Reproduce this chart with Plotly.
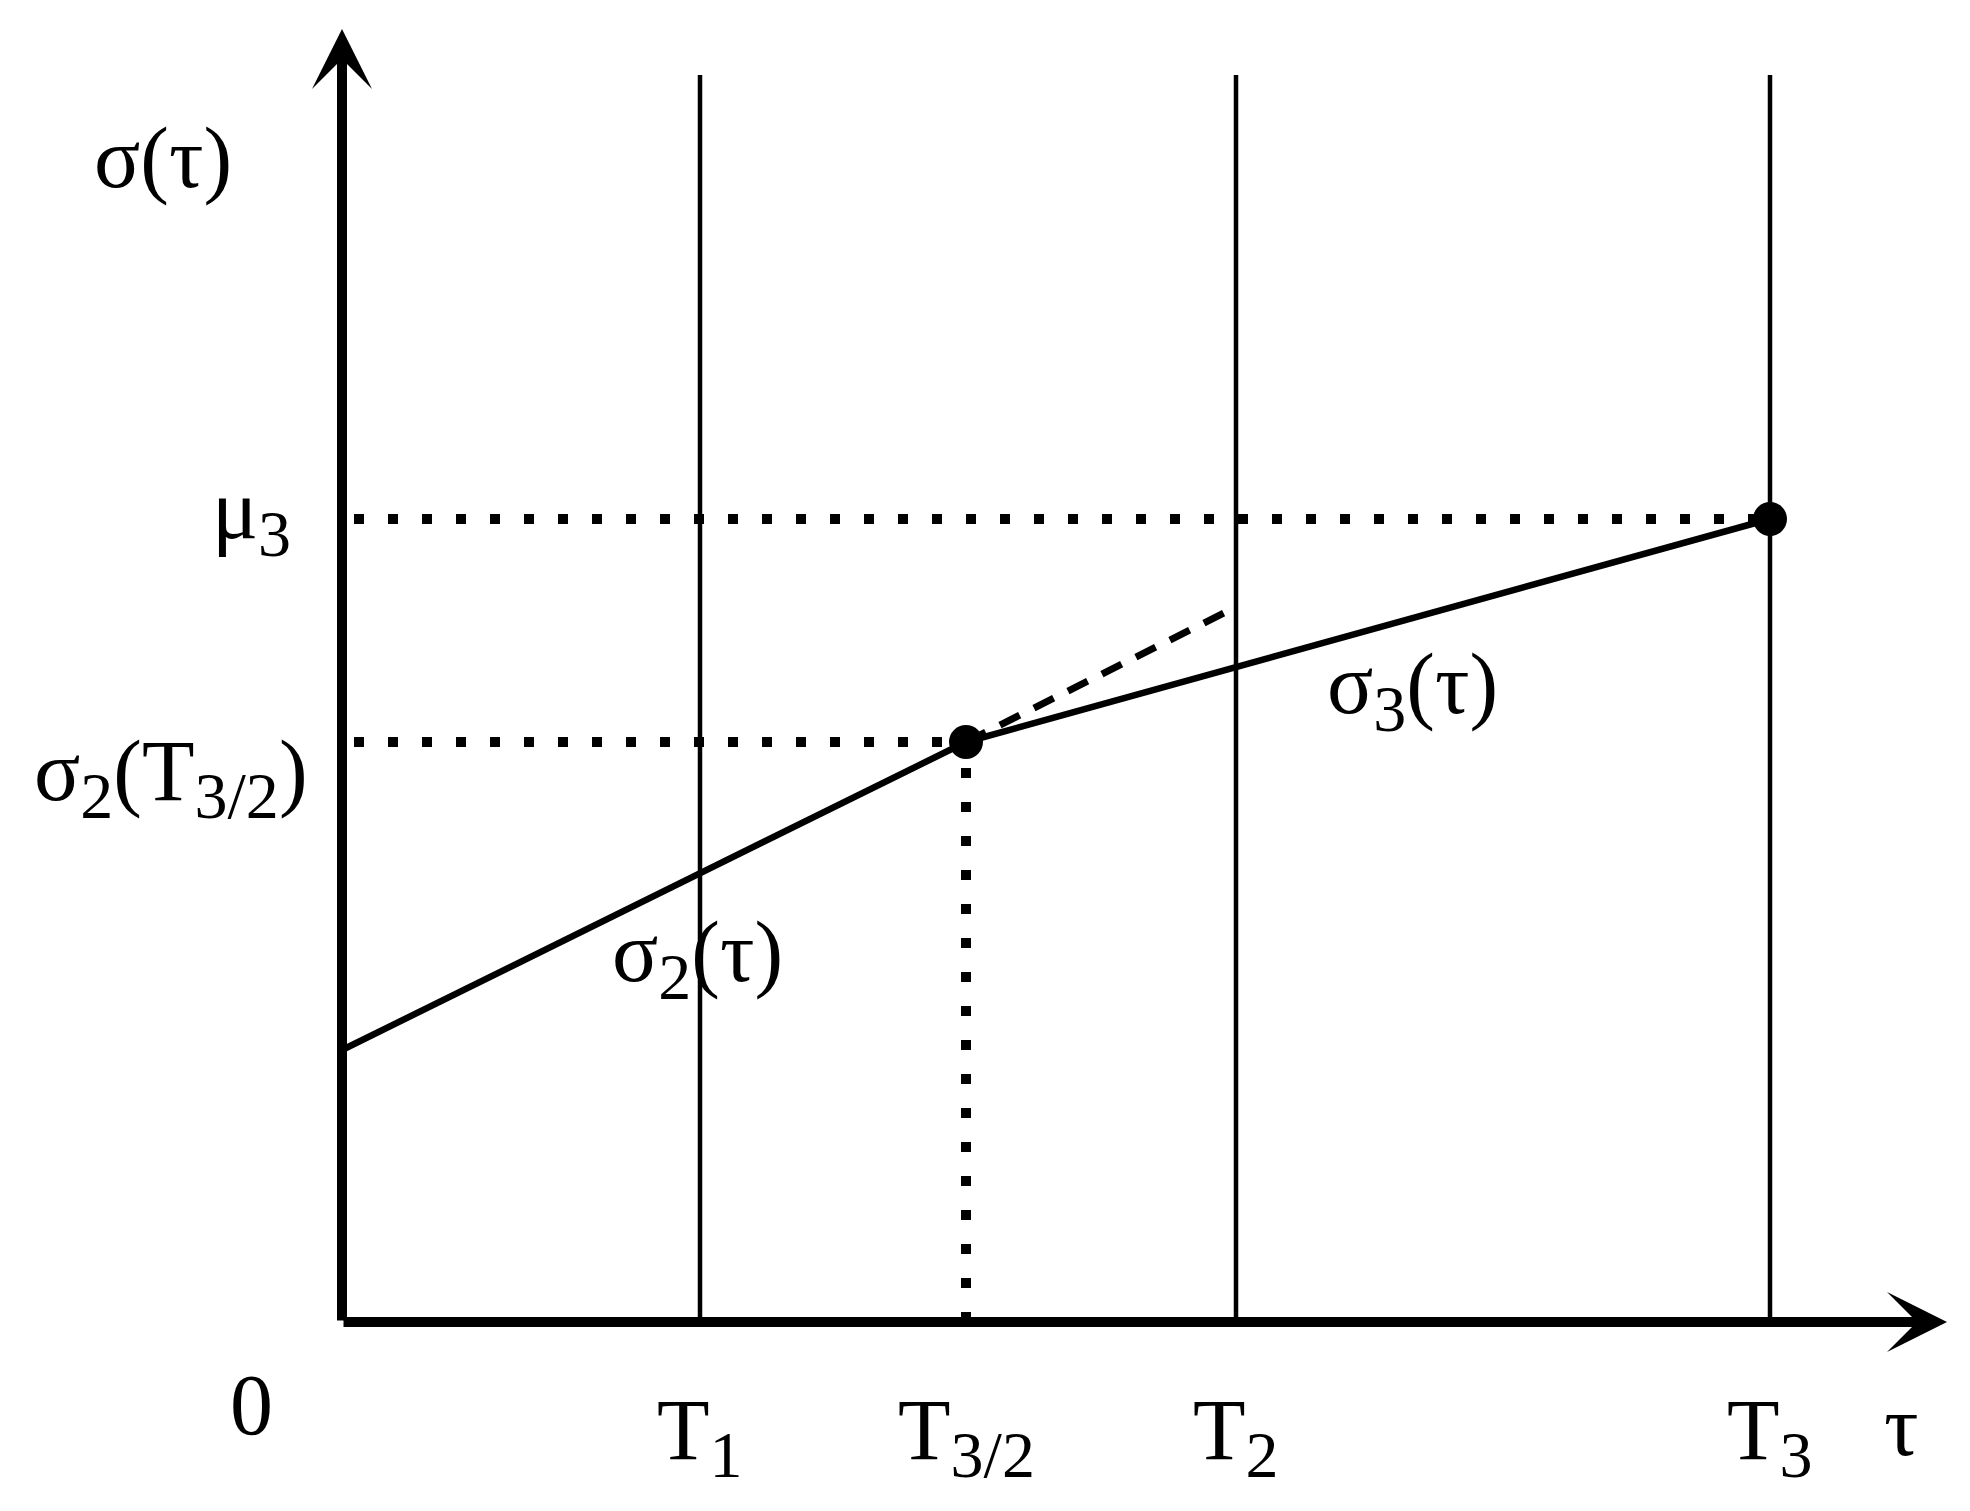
import plotly.graph_objs as go

################################################################################
# data (arbitrary units, origin at the corner of the axes)

t_names = ['T', 'T', 'T', 'T']
t_subs = ['1', '3/2', '2', '3']
t_vals = [3.58, 6.24, 8.94, 14.28]      # T1, T3/2, T2, T3
t_top = 12.47                           # top of the thin vertical lines

sigma2_x = [0, 6.24]                    # sigma_2(tau)
sigma2_y = [2.72, 5.80]
sigma3_x = [6.24, 14.28]                # sigma_3(tau)
sigma3_y = [5.80, 8.03]
ext_x = [6.24, 8.94]                    # dashed continuation of sigma_2
ext_y = [5.80, 7.15]
knot_x = [6.24, 14.28]
knot_y = [5.80, 8.03]

mu3 = 8.03
s2_t32 = 5.80

x_end = 16.05                           # arrow tips
y_end = 12.93

################################################################################

font = 'Liberation Serif'
fs = 86
black = 'black'

def sub(s):
    return '<sub><span style="font-family:Liberation Serif;font-size:66px">%s</span></sub>' % s

traces = []

# thin vertical lines at T1, T2, T3
for i in [0, 2, 3]:
    traces.append(go.Scatter(x=[t_vals[i], t_vals[i]], y=[0, t_top], mode='lines',
                             line=dict(color=black, width=4.5), hoverinfo='skip'))

# dotted guides
dots = '10px,24px'
traces.append(go.Scatter(x=[0.12, t_vals[3]], y=[mu3, mu3], mode='lines',
                         line=dict(color=black, width=10, dash=dots), hoverinfo='skip'))
traces.append(go.Scatter(x=[0.12, t_vals[1]], y=[s2_t32, s2_t32], mode='lines',
                         line=dict(color=black, width=10, dash=dots), hoverinfo='skip'))
traces.append(go.Scatter(x=[t_vals[1], t_vals[1]], y=[0, s2_t32], mode='lines',
                         line=dict(color=black, width=10, dash=dots), hoverinfo='skip'))

# dashed extension
traces.append(go.Scatter(x=ext_x, y=ext_y, mode='lines',
                         line=dict(color=black, width=7, dash='22px,16px'), hoverinfo='skip'))

# sigma_2 and sigma_3
traces.append(go.Scatter(x=sigma2_x, y=sigma2_y, mode='lines',
                         line=dict(color=black, width=6.5), hoverinfo='skip'))
traces.append(go.Scatter(x=sigma3_x, y=sigma3_y, mode='lines',
                         line=dict(color=black, width=6.5), hoverinfo='skip'))

# knots
traces.append(go.Scatter(x=knot_x, y=knot_y, mode='markers',
                         marker=dict(color=black, size=34, line=dict(width=0)), hoverinfo='skip'))

################################################################################
# axes with arrowheads

annotations = []
for tip in [(x_end, 0), (0, y_end)]:
    annotations.append(dict(x=tip[0], y=tip[1], ax=0, ay=0, xref='x', yref='y', axref='x', ayref='y',
                            text='', showarrow=True, arrowhead=3, arrowsize=1.0, arrowwidth=10,
                            arrowcolor=black, standoff=0, startstandoff=0))

# labels
def label(text, x, y, xanchor='center', yanchor='middle'):
    annotations.append(dict(x=x, y=y, xref='x', yref='y', text=text, showarrow=False,
                            xanchor=xanchor, yanchor=yanchor,
                            font=dict(family=font, size=fs, color=black)))

for name, s, t in zip(t_names, t_subs, t_vals):
    label(name + sub(s), t, -1.14)
label('0', -0.91, -0.83)
label('τ', 15.59, -1.04)
label('σ(τ)', -1.79, 11.64)
label('μ' + sub('3'), -0.91, 8.07)
label('σ' + sub('2') + '(T' + sub('3/2') + ')', -0.32, 5.45, xanchor='right')
label('σ' + sub('2') + '(τ)', 3.55, 3.64)
label('σ' + sub('3') + '(τ)', 10.70, 6.32)

layout = go.Layout(width=1970, height=1511, margin=dict(l=0, r=0, t=0, b=0),
                   paper_bgcolor='white', plot_bgcolor='white', showlegend=False,
                   xaxis=dict(range=[-3.42, 16.28], visible=False),
                   yaxis=dict(range=[-1.89, 13.22], visible=False),
                   annotations=annotations)

fig = go.Figure(data=traces, layout=layout)
fig.write_html('out.html', config={'displayModeBar': False},
               post_script="document.body.style.margin='0px';")
